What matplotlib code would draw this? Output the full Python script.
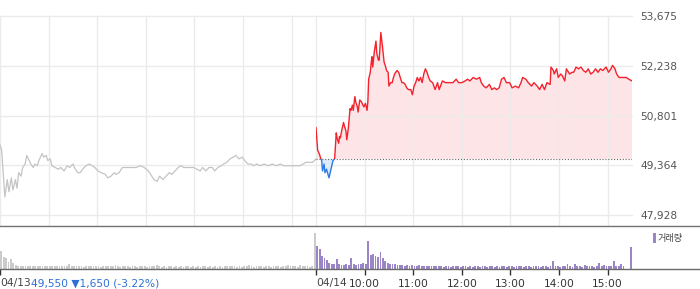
import matplotlib
matplotlib.use("Agg")
import matplotlib.pyplot as plt
from matplotlib.lines import Line2D
from matplotlib.patches import Rectangle
import numpy as np

# ---------------- data ----------------
prev_close = 49550                      # 04/13 close (baseline for 04/14)
day_length = 390                        # minutes 09:00-15:30

day1_minutes = [0, 2, 6, 9, 11, 14, 16, 19, 21, 23, 26, 28, 31, 33, 36, 38, 41, 43, 46, 48,
                52, 54, 57, 59, 62, 64, 68, 72, 75, 79, 83, 86, 90, 93, 96, 99, 102, 106, 110, 114,
                117, 121, 125, 130, 133, 137, 141, 143, 147, 151, 154, 158, 163, 168, 173, 178, 183, 186, 190, 194,
                197, 201, 205, 209, 212, 216, 220, 223, 227, 231, 234, 239, 243, 247, 250, 254, 258, 262, 265, 269,
                273, 276, 280, 284, 288, 291, 295, 299, 302, 306, 310, 313, 317, 321, 326, 331, 336, 341, 346, 350,
                355, 360, 365, 370, 374, 378, 383, 386, 390]
day1_prices = [49950, 49800, 48450, 48950, 48600, 49000, 48650, 48950, 48700, 49150, 49050, 49300, 49400, 49650, 49500, 49400, 49300, 49400, 49350, 49500,
               49700, 49600, 49650, 49500, 49550, 49350, 49300, 49250, 49300, 49200, 49350, 49300, 49400, 49250, 49150, 49150, 49250, 49350, 49400, 49350,
               49300, 49200, 49150, 49100, 49000, 49050, 49150, 49100, 49150, 49300, 49300, 49300, 49300, 49300, 49350, 49300, 49200, 49100, 48950, 48900,
               49050, 48950, 49050, 49150, 49100, 49200, 49300, 49350, 49300, 49300, 49300, 49300, 49250, 49200, 49300, 49200, 49300, 49300, 49200, 49300,
               49350, 49400, 49450, 49550, 49600, 49650, 49550, 49600, 49500, 49400, 49400, 49350, 49400, 49350, 49400, 49350, 49400, 49350, 49400, 49350,
               49350, 49350, 49350, 49350, 49400, 49450, 49450, 49450, 49550]

day2_minutes = [0, 2, 4, 6, 7, 8, 10, 11, 13, 16, 17, 19, 21, 23, 25, 26, 28, 29, 30, 32,
                34, 35, 37, 38, 40, 42, 43, 45, 46, 48, 49, 51, 52, 54, 56, 57, 59, 61, 63, 64,
                65, 67, 68, 69, 70, 72, 74, 75, 77, 78, 80, 81, 82, 84, 86, 87, 89, 90, 92, 94,
                95, 97, 100, 102, 104, 106, 108, 110, 112, 114, 117, 119, 121, 123, 125, 127, 129, 131, 133, 135,
                137, 139, 141, 144, 147, 150, 152, 156, 160, 164, 169, 173, 176, 180, 184, 187, 190, 194, 198, 202,
                204, 207, 210, 214, 217, 220, 223, 226, 229, 232, 235, 239, 242, 246, 250, 253, 255, 259, 262, 266,
                269, 273, 276, 279, 282, 285, 289, 290, 293, 294, 297, 299, 302, 304, 307, 309, 313, 316, 318, 321,
                324, 327, 330, 333, 336, 339, 342, 345, 348, 351, 354, 358, 361, 364, 366, 369, 371, 374, 379, 383,
                386, 390]
day2_prices = [50450, 49800, 49700, 49550, 49500, 49200, 49400, 49150, 49250, 49000, 49100, 49300, 49500, 49550, 50300, 50150, 50000, 50200, 50150, 50400,
               50600, 50500, 50350, 50100, 50450, 51000, 50950, 51100, 50950, 51350, 51200, 51050, 50900, 51250, 51200, 51150, 51050, 51150, 50950, 51200,
               51850, 52050, 52300, 52500, 52200, 52650, 52950, 52600, 52400, 52400, 53200, 53000, 52800, 52350, 52200, 52100, 52050, 51650, 51750, 51750,
               51850, 52000, 52100, 52050, 51900, 51750, 51750, 51700, 51600, 51550, 51550, 51400, 51650, 51750, 51900, 51800, 51900, 51750, 52000, 52150,
               52050, 51900, 51800, 51750, 51550, 51750, 51550, 51800, 51750, 51750, 51750, 51850, 51750, 51750, 51800, 51850, 51800, 51900, 51850, 51900,
               51750, 51650, 51600, 51700, 51550, 51600, 51550, 51600, 51850, 51900, 51750, 51750, 51600, 51650, 51600, 51750, 51900, 51850, 51750, 51650,
               51750, 51650, 51550, 51700, 51550, 51750, 51700, 52200, 52100, 52000, 52150, 51900, 52000, 51950, 51800, 52150, 52000, 52050, 52050, 52200,
               52150, 52200, 52100, 52050, 52150, 52000, 52050, 52150, 52050, 52150, 52100, 52200, 52050, 52150, 52250, 52150, 52000, 51900, 51900, 51900,
               51850, 51800]

# volume per 3-minute bin (thousand shares)
day1_volume = [180, 120, 110, 70, 100, 60, 40,
               30, 25, 30, 25, 30, 30, 25, 30, 30, 25, 30, 25, 30,
               25, 30, 25, 30, 25, 30, 25, 30, 50, 25, 30, 25, 30, 25, 20, 30, 25, 30, 25, 30,
               25, 20, 30, 25, 30, 25, 25, 40, 25, 20, 25, 30, 25, 20, 30, 25, 20, 25, 30, 25,
               20, 25, 30, 25, 40, 25, 20, 25, 20, 25, 30, 20, 25, 20, 25, 20, 30, 25, 20, 25,
               20, 25, 20, 25, 30, 20, 25, 20, 25, 20, 25, 20, 25, 30, 25, 30, 25, 20, 25, 20,
               25, 30, 40, 25, 20, 25, 30, 25, 20, 25, 30, 20, 25, 30, 25, 20, 30, 25, 40, 25,
               30, 25, 20, 40, 25, 30, 25, 20, 25, 360]
day2_volume = [230, 200, 130, 110, 85, 60, 45, 45, 100, 50,
               40, 40, 45, 40, 110, 45, 40, 45, 50, 60,
               50, 280, 140, 150, 130, 120, 170, 110, 80, 60,
               50, 45, 50, 40, 40, 35, 30, 35, 30, 35,
               30, 30, 35, 25, 30, 30, 25, 30, 25, 30,
               25, 30, 20, 25, 30, 20, 25, 30, 25, 20,
               25, 30, 20, 25, 20, 30, 25, 20, 25, 30,
               20, 25, 30, 20, 25, 20, 30, 25, 20, 25,
               30, 20, 25, 30, 25, 20, 30, 25, 20, 25,
               30, 25, 20, 30, 25, 20, 25, 80, 25, 30,
               20, 25, 30, 50, 25, 20, 50, 30, 25, 20,
               40, 25, 30, 25, 20, 30, 60, 25, 40, 25,
               30, 25, 80, 30, 25, 50, 30,
               0, 0, 220]
bin_minutes = 3

price_ticks = [47928, 49364, 50801, 52238, 53675]
date_labels = ["04/13", "04/14"]
hour_labels = ["10:00", "11:00", "12:00", "13:00", "14:00", "15:00"]
change_text = "49,550 \u25BC1,650 (-3.22%)"
legend_label = "거래량"

# ---------------- style ----------------
RED = "#f5222d"
BLUE = "#2b7be4"
GRAY_LINE = "#c4c4c4"
PINK_FILL = "#fde4e6"
BLUE_FILL = "#dfeafa"
VOL_GRAY = "#cbcbcb"
VOL_PURPLE = "#9a86c6"
GRID = "#ebebeb"
TXT = "#4a4a4a"
CHG_BLUE = "#2d6fd6"

W, H = 700, 289
fig = plt.figure(figsize=(W / 100, H / 100), dpi=100)
fig.patch.set_facecolor("white")


def fx(px):
    return px / W


def fy(py):
    return 1 - py / H


plot_right = 632
ax = fig.add_axes([0, fy(225), fx(plot_right), fy(16) - fy(225)])
axv = fig.add_axes([0, fy(268.5), fx(plot_right), fy(226.5) - fy(268.5)])

total = 2 * day_length
for a in (ax, axv):
    a.set_xlim(0, total)
    for s in a.spines.values():
        s.set_visible(False)
    a.set_facecolor("none")

# ---- price panel ----
ax.set_ylim(47639, 53675)
grid_x = [0] + [60 * h for h in range(1, 7)] + [day_length] + [day_length + 60 * h for h in range(1, 7)]
ax.set_xticks(grid_x)
ax.set_yticks(price_ticks)
ax.set_yticklabels([f"{v:,}" for v in price_ticks])
ax.grid(True, color=GRID, lw=1.0, zorder=0)
ax.tick_params(axis="x", length=0, labelbottom=False)
ax.yaxis.tick_right()
ax.tick_params(axis="y", length=0, pad=6, labelsize=7.7, labelcolor="#555555")
for lab in ax.get_yticklabels():
    lab.set_clip_on(False)
for gl in ax.get_ygridlines() + ax.get_xgridlines():
    gl.set_clip_on(False)

t1 = np.array(day1_minutes, dtype=float)
p1 = np.array(day1_prices, dtype=float)
t2 = np.array(day2_minutes, dtype=float) + day_length
p2 = np.array(day2_prices, dtype=float)

ax.plot(t1, p1, color=GRAY_LINE, lw=0.9, zorder=3)

ax.fill_between(t2, p2, prev_close, where=p2 >= prev_close, interpolate=True,
                color=PINK_FILL, lw=0, zorder=1)
ax.fill_between(t2, p2, prev_close, where=p2 <= prev_close, interpolate=True,
                color=BLUE_FILL, lw=0, zorder=1)
ax.hlines(prev_close, day_length, total, colors="#666666", linestyles=(0, (1, 1.6)), lw=0.8, zorder=2)

red_line, = ax.plot(t2, p2, color=RED, lw=1.0, zorder=4)
blue_line, = ax.plot(t2, p2, color=BLUE, lw=1.0, zorder=4)
ylo, yhi = ax.get_ylim()
clip_up = Rectangle((day_length, prev_close), day_length, yhi - prev_close, transform=ax.transData,
                    visible=False)
clip_dn = Rectangle((day_length, ylo), day_length, prev_close - ylo, transform=ax.transData,
                    visible=False)
ax.add_patch(clip_up)
ax.add_patch(clip_dn)
red_line.set_clip_path(clip_up)
blue_line.set_clip_path(clip_dn)

# ---- volume panel ----
vmax = 420
axv.set_ylim(0, vmax)
axv.set_yticks([])
x1 = np.arange(len(day1_volume)) * bin_minutes + bin_minutes / 2
x2 = np.arange(len(day2_volume)) * bin_minutes + bin_minutes / 2 + day_length
axv.bar(x1, day1_volume, width=bin_minutes * 0.75, color=VOL_GRAY, lw=0)
axv.bar(x2, day2_volume, width=bin_minutes * 0.75, color=VOL_PURPLE, lw=0)

tick_pos = [0, day_length] + [day_length + 60 * h for h in range(1, 7)]
axv.set_xticks(tick_pos)
axv.set_xticklabels(["", ""] + hour_labels)
axv.tick_params(axis="x", direction="out", length=4, width=1, color="#333333",
                labelsize=7.7, labelcolor="#333333", pad=3.5)

lab_y = -(283 - 268.5) / (268.5 - 226.5)
d1 = axv.text(0, lab_y, date_labels[0], transform=axv.get_xaxis_transform(),
              ha="left", va="center", fontsize=7.7, color="#444444", clip_on=False)
axv.annotate(change_text, xy=(1, 0.5), xycoords=d1, ha="left", va="center",
             fontsize=7.7, color=CHG_BLUE, annotation_clip=False)
axv.text(day_length, lab_y, date_labels[1], transform=axv.get_xaxis_transform(),
         ha="left", va="center", fontsize=7.7, color="#444444", clip_on=False)

# separators
fig.add_artist(Line2D([0, 1], [fy(225.5), fy(225.5)], transform=fig.transFigure, color="#6a6a6a", lw=1.0))
fig.add_artist(Line2D([0, 1], [fy(226.8), fy(226.8)], transform=fig.transFigure, color="#e6e6e6", lw=0.8))
fig.add_artist(Line2D([0, 1], [fy(268.5), fy(268.5)], transform=fig.transFigure, color="#6a6a6a", lw=1.0))

# legend
fig.add_artist(Rectangle((fx(653), fy(243)), fx(3), (243 - 233) / H, transform=fig.transFigure,
                         color=VOL_PURPLE, lw=0))
fig.text(fx(658), fy(238), legend_label, ha="left", va="center", fontsize=6.6, color="#444444",
         family=["Noto Sans CJK KR", "DejaVu Sans"])

fig.savefig("out.png", dpi=100, facecolor="white")
